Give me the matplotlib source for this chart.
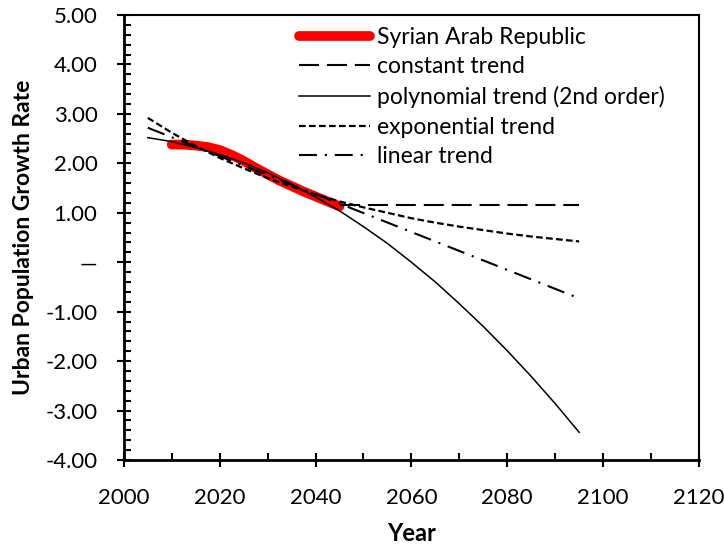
"""
urban_growth_trends.py

Urban population growth rate of the Syrian Arab Republic
with four fitted trend extrapolations up to 2095.
"""

import matplotlib
matplotlib.use("Agg")
import matplotlib.pyplot as plt
from matplotlib.ticker import MultipleLocator, FuncFormatter

plt.rcParams["font.family"] = ["Lato", "DejaVu Sans"]

# observed / projected series
syria_years = [2010, 2012.5, 2015, 2017.5, 2020, 2022.5, 2025, 2027.5,
               2030, 2032.5, 2035, 2037.5, 2040, 2042.5, 2045]
syria_rate = [2.38, 2.38, 2.36, 2.33, 2.27, 2.17, 2.05, 1.91,
              1.78, 1.65, 1.54, 1.43, 1.33, 1.23, 1.13]

# trend curves, read every five years
trend_years = [2005, 2010, 2015, 2020, 2025, 2030, 2035, 2040, 2045, 2050,
               2055, 2060, 2065, 2070, 2075, 2080, 2085, 2090, 2095]
poly_rate = [2.52, 2.44, 2.32, 2.18, 2.01, 1.81, 1.58, 1.32, 1.04, 0.72,
             0.38, 0.00, -0.40, -0.84, -1.30, -1.79, -2.31, -2.86, -3.44]
exp_rate = [2.92, 2.62, 2.35, 2.11, 1.90, 1.70, 1.53, 1.37, 1.23, 1.11,
            1.00, 0.89, 0.80, 0.72, 0.65, 0.58, 0.52, 0.47, 0.42]

linear_years = [2005, 2095]
linear_rate = [2.72, -0.73]

constant_years = [2045, 2095]
constant_rate = [1.15, 1.15]


def y_label(value, pos):
    if abs(value) < 1e-9:
        return "\u2014"
    return f"{value:.2f}"


fig = plt.figure(figsize=(7.24, 5.5), dpi=100)
ax = fig.add_axes([0.171, 0.1636, 0.7945, 0.8091])

ax.plot(syria_years, syria_rate, color="red", lw=7,
        solid_capstyle="round", solid_joinstyle="round",
        label="Syrian Arab Republic", zorder=2)
ax.plot(constant_years, constant_rate, color="black", lw=1.5,
        dashes=(9.6, 3.8), label="constant trend", zorder=3)
ax.plot(trend_years, poly_rate, color="black", lw=1.1,
        label="polynomial trend (2nd order)", zorder=3)
ax.plot(trend_years, exp_rate, color="black", lw=1.6,
        dashes=(3, 1.5), label="exponential trend", zorder=3)
ax.plot(linear_years, linear_rate, color="black", lw=1.5,
        dashes=(8.6, 3.8, 1, 3.8), label="linear trend", zorder=3)

ax.set_xlim(2000, 2120)
ax.set_ylim(-4, 5)
ax.xaxis.set_major_locator(MultipleLocator(20))
ax.xaxis.set_minor_locator(MultipleLocator(10))
ax.yaxis.set_major_locator(MultipleLocator(1))
ax.yaxis.set_minor_locator(MultipleLocator(0.2))
ax.yaxis.set_major_formatter(FuncFormatter(y_label))

ax.tick_params(which="major", direction="inout", length=10, width=1.5,
               labelsize=16)
ax.tick_params(which="minor", direction="in", length=5, width=1.5)
ax.tick_params(axis="y", which="major", pad=14)
ax.tick_params(axis="x", which="major", pad=15)

for side in ["left", "bottom"]:
    ax.spines[side].set_linewidth(2)
for side in ["top", "right"]:
    ax.spines[side].set_linewidth(1.5)

ax.set_xlabel("Year", fontsize=17, fontweight="bold", labelpad=10)
ax.set_ylabel("Urban Population Growth Rate", fontsize=16.5,
              fontweight="bold", labelpad=8)

ax.legend(loc="upper left", bbox_to_anchor=(0.28, 1.005), frameon=False,
          fontsize=16.5, handlelength=3.1, handletextpad=0.3,
          labelspacing=0.38, borderaxespad=0.2)

fig.savefig("out.png", dpi=100)
